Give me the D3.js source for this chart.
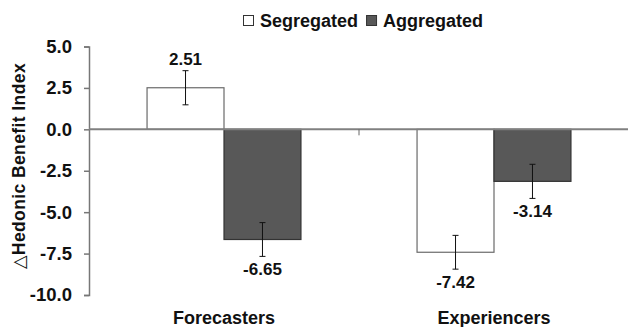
<!DOCTYPE html>
<html>
<head>
<meta charset="utf-8">
<script src="https://cdn.jsdelivr.net/npm/d3@7"></script>
<style>
  body { margin: 0; background: #fff; }
  text { font-family: "Liberation Sans", Arial, sans-serif; font-weight: bold; fill: #111; }
</style>
</head>
<body>
<svg id="chart" width="628" height="327"></svg>
<script>
var groups = ["Forecasters", "Experiencers"];
var series = ["Segregated", "Aggregated"];
var means = [[2.51, -6.65], [-7.42, -3.14]];
var errors = [[1.03, 1.02], [1.02, 1.03]];
var yTicks = [5, 2.5, 0, -2.5, -5, -7.5, -10];

var fills = { "Segregated": "#ffffff", "Aggregated": "#585858" };
var strokes = { "Segregated": "#6a6a6a", "Aggregated": "#333" };

var svg = d3.select("#chart"),
    width = +svg.attr("width"),
    height = +svg.attr("height");

var plotLeft = 89, plotTop = 46.5, plotBottom = 295;

var x = d3.scaleBand()
    .domain(groups)
    .range([plotLeft, width + 1]);

var inner = x.bandwidth() * 0.57;
var x1 = d3.scaleBand()
    .domain(series)
    .range([(x.bandwidth() - inner) / 2, (x.bandwidth() + inner) / 2]);

var y = d3.scaleLinear()
    .domain([-10, 5])
    .range([plotBottom, plotTop]);

// y axis
var yAxis = svg.append("g")
    .attr("transform", "translate(" + plotLeft + ",0)")
    .call(d3.axisLeft(y).tickValues(yTicks).tickSize(5).tickPadding(12)
      .tickFormat(d => d.toFixed(1)));
yAxis.select(".domain").attr("stroke", "#777").attr("stroke-width", 1.5);
yAxis.selectAll(".tick line").attr("stroke", "#777").attr("stroke-width", 1.5);
yAxis.selectAll(".tick text")
    .style("font-size", "18.5px")
    .attr("fill", "#111");

// bars
var rows = [];
groups.forEach((g, i) => series.forEach((s, j) => {
  rows.push({ group: g, series: s, value: means[i][j], err: errors[i][j] });
}));

svg.append("g").selectAll("rect")
  .data(rows).enter()
  .append("rect")
    .attr("x", d => x(d.group) + x1(d.series))
    .attr("width", x1.bandwidth())
    .attr("y", d => y(Math.max(0, d.value)))
    .attr("height", d => Math.abs(y(d.value) - y(0)))
    .attr("fill", d => fills[d.series])
    .attr("stroke", d => strokes[d.series])
    .attr("stroke-width", 1.2);

// zero line
svg.append("line")
    .attr("x1", plotLeft).attr("x2", width)
    .attr("y1", y(0)).attr("y2", y(0))
    .attr("stroke", "#808080")
    .attr("stroke-width", 2);

// separator tick between groups
svg.append("g").selectAll("line")
  .data(groups.slice(1)).enter()
  .append("line")
    .attr("x1", d => x(d)).attr("x2", d => x(d))
    .attr("y1", y(0)).attr("y2", y(0) + 6)
    .attr("stroke", "#666")
    .attr("stroke-width", 1);

// error bars
var eb = svg.append("g").selectAll("g")
  .data(rows).enter()
  .append("g")
    .attr("transform", d => "translate(" + (x(d.group) + x1(d.series) + x1.bandwidth() / 2) + ",0)");

eb.append("line")
    .attr("y1", d => y(d.value + d.err))
    .attr("y2", d => y(d.value - d.err))
    .attr("stroke", "#111");
eb.append("line")
    .attr("x1", -3).attr("x2", 3)
    .attr("y1", d => y(d.value + d.err)).attr("y2", d => y(d.value + d.err))
    .attr("stroke", "#111");
eb.append("line")
    .attr("x1", -3).attr("x2", 3)
    .attr("y1", d => y(d.value - d.err)).attr("y2", d => y(d.value - d.err))
    .attr("stroke", "#111");

// value labels
eb.append("text")
    .attr("text-anchor", "middle")
    .style("font-size", "17px")
    .attr("y", d => d.value >= 0 ? y(d.value + d.err) - 6 : y(d.value - d.err) + 19)
    .text(d => d.value.toFixed(2));

// group labels
svg.append("g").selectAll("text")
  .data(groups).enter()
  .append("text")
    .attr("x", d => x(d) + x.bandwidth() / 2)
    .attr("y", 324)
    .attr("text-anchor", "middle")
    .style("font-size", "18px")
    .text(d => d);

// y title
svg.append("text")
    .attr("transform", "translate(25,166) rotate(-90)")
    .attr("text-anchor", "middle")
    .style("font-size", "17.5px")
    .style("letter-spacing", "0.4px")
    .html('<tspan style="font-weight:normal;font-family:DejaVu Sans">△</tspan>Hedonic Benefit Index');

// legend
var legend = svg.append("g").attr("transform", "translate(243,0)");
var lx = 0;
series.forEach(s => {
  legend.append("rect")
      .attr("x", lx + 0.5).attr("y", 15.5)
      .attr("width", 10).attr("height", 10)
      .attr("fill", fills[s])
      .attr("stroke", "#333")
      .attr("stroke-width", 1);
  var t = legend.append("text")
      .attr("x", lx + 17).attr("y", 26.5)
      .style("font-size", "18px")
      .text(s);
  lx += 17 + t.node().getComputedTextLength() + 8;
});
</script>
</body>
</html>
